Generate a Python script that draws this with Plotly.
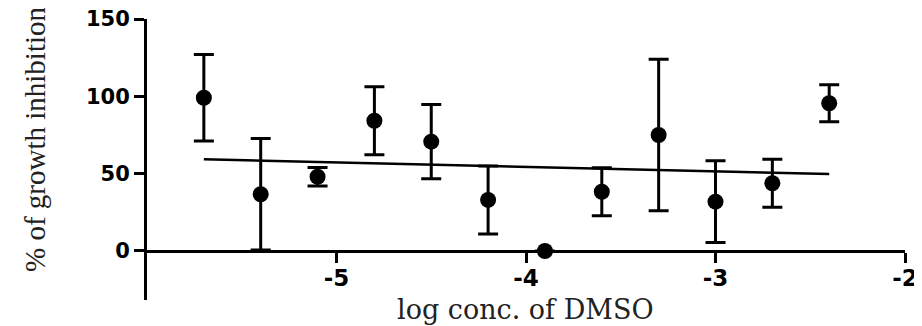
import plotly.graph_objects as go

# Data
log_conc = [-5.7, -5.4, -5.1, -4.8, -4.5, -4.2, -3.9, -3.6, -3.3, -3.0, -2.7, -2.4]
inhibition = [99.1, 36.7, 48.0, 84.2, 70.7, 33.0, 0.0, 38.3, 75.0, 31.9, 43.8, 95.5]
error = [28.0, 36.0, 6.0, 22.0, 24.0, 22.0, 0.0, 15.5, 49.0, 26.5, 15.5, 12.0]

fit_x = [-5.7, -2.4]
fit_y = [59.3, 49.8]

x_ticks = [-5, -4, -3, -2]
y_ticks = [0, 50, 100, 150]

x_title = "log conc. of DMSO"
y_title = "% of growth inhibition"

fig = go.Figure()

fig.add_trace(go.Scatter(
    x=fit_x, y=fit_y, mode="lines",
    line=dict(color="black", width=2.5),
    showlegend=False, hoverinfo="skip",
))

fig.add_trace(go.Scatter(
    x=log_conc, y=inhibition, mode="markers",
    marker=dict(color="black", size=16, symbol="circle"),
    error_y=dict(type="data", array=error, visible=True,
                 color="black", thickness=3, width=10),
    showlegend=False,
))

x_tick_font = dict(family="DejaVu Sans", size=23, color="black", weight="bold")
y_tick_font = dict(family="DejaVu Sans", size=21, color="black", weight="bold")

# page has an 8px body margin, so the figure is sized/offset accordingly
fig.update_layout(
    width=914, height=318,
    margin=dict(l=139, r=17, t=11, b=26, autoexpand=False),
    paper_bgcolor="white", plot_bgcolor="white",
    template="none",
    xaxis=dict(
        range=[-6, -2], tickvals=x_ticks, ticktext=[str(v) for v in x_ticks],
        anchor="free", position=31.7 / 181.7,
        showline=True, linecolor="black", linewidth=3,
        ticks="outside", ticklen=10, tickwidth=3, tickcolor="black",
        showgrid=False, zeroline=False, tickfont=x_tick_font,
        ticklabeloverflow="allow", ticklabelstandoff=-5,
        automargin=False,
    ),
    yaxis=dict(
        range=[-31.7, 150], tickvals=y_ticks, ticktext=[str(v) for v in y_ticks],
        showline=True, linecolor="black", linewidth=3,
        ticks="outside", ticklen=10, tickwidth=3, tickcolor="black",
        showgrid=False, zeroline=False, tickfont=y_tick_font,
        ticklabeloverflow="allow",
        automargin=False,
    ),
    annotations=[
        dict(text=y_title, xref="paper", yref="paper",
             x=(35 - 147) / 758, y=(300 - 139) / 281,
             xanchor="center", yanchor="middle", textangle=-90, showarrow=False,
             font=dict(family="Liberation Serif", size=29, color="#222")),
        dict(text=x_title, xref="paper", yref="paper",
             x=(525 - 147) / 758, y=(300 - 309) / 281,
             xanchor="center", yanchor="middle", showarrow=False,
             font=dict(family="DejaVu Serif", size=27, color="#222")),
    ],
)

fig.write_html("out.html")
